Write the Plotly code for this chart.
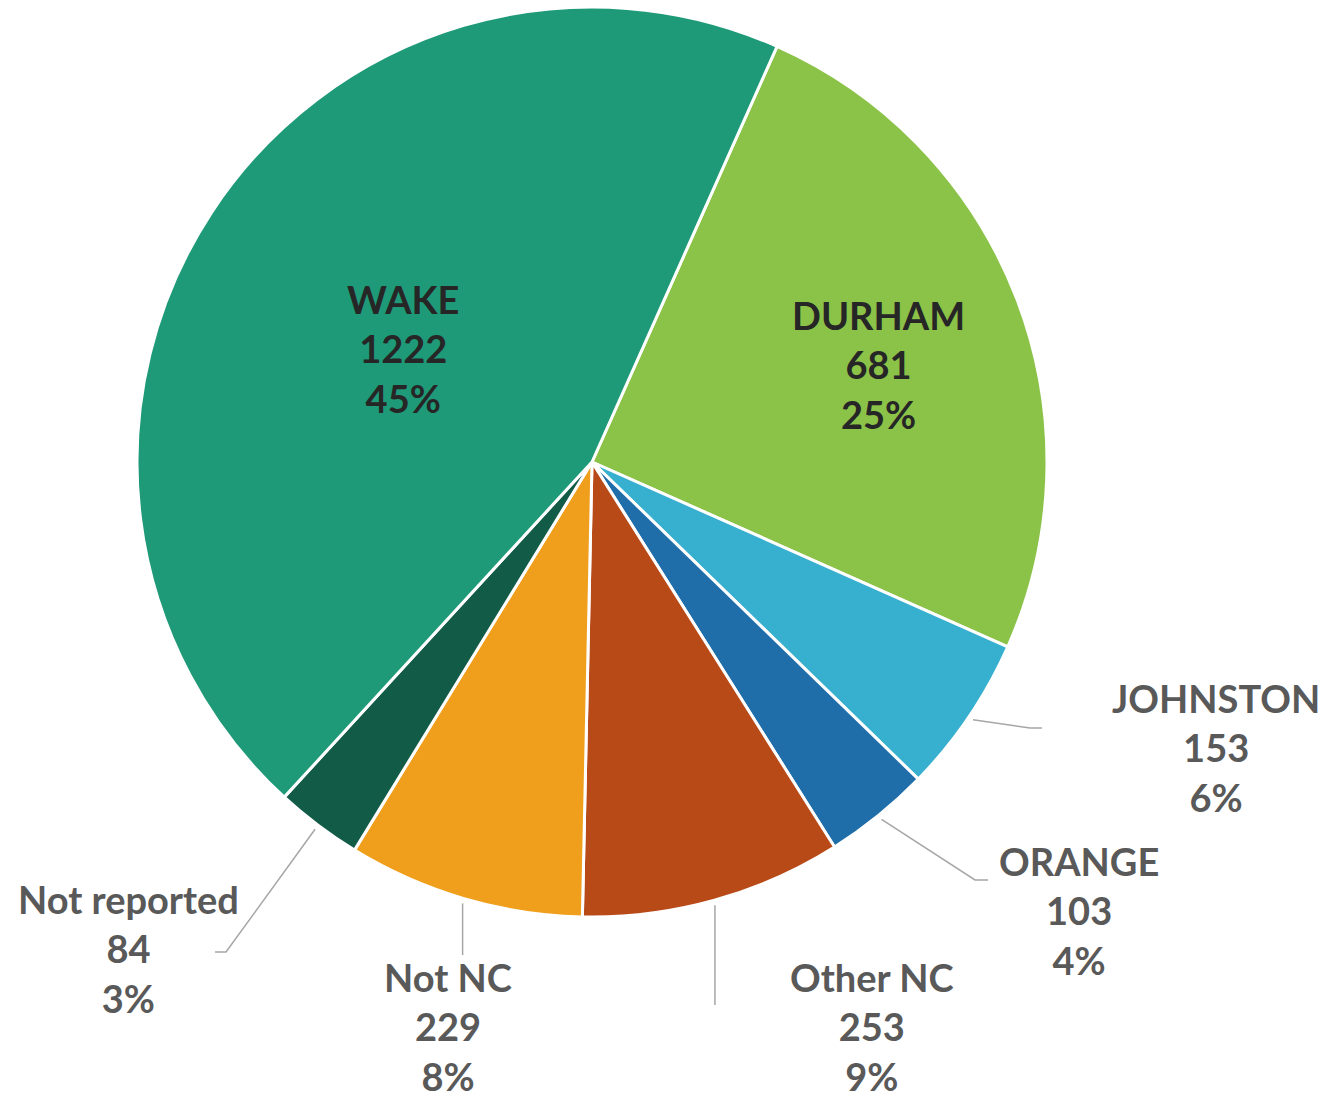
import math
import plotly.graph_objects as go

# County breakdown, clockwise from DURHAM
categories = ["DURHAM", "JOHNSTON", "ORANGE", "Other NC", "Not NC", "Not reported", "WAKE"]
counts = [681, 153, 103, 253, 229, 84, 1222]
slice_colors = ["#8BC248", "#37AFCF", "#1F6EAA", "#B84A18", "#F09F1D", "#125B47", "#1F9A78"]

W, H = 1324, 1100
CX, CY, R = 592, 462, 455      # pie centre / radius in pixels
ROTATION = 24                   # start angle of first slice, clockwise from 12 o'clock

# label placement (text-block centre) and leader-line routing, in pixels
label_pos = {
    "WAKE": (403, 348),
    "DURHAM": (878, 364),
    "JOHNSTON": (1216, 747),
    "ORANGE": (1079, 910),
    "Other NC": (872, 1026),
    "Not NC": (448, 1026),
    "Not reported": (128, 948),
}
inside = {"WAKE", "DURHAM"}
# leader: (elbow x or None for straight-down, elbow y, horizontal tail length signed)
leaders = {
    "JOHNSTON": (1030, 728, 12),
    "ORANGE": (975, 880, 13),
    "Other NC": (None, 1005, 0),
    "Not NC": (None, 955, 0),
    "Not reported": (226, 952, -11),
}


def px(x):
    return x / W


def py(y):
    return 1 - y / H


total = sum(counts)
fig = go.Figure(go.Pie(
    labels=categories,
    values=counts,
    sort=False,
    direction="clockwise",
    rotation=ROTATION,
    marker=dict(colors=slice_colors, line=dict(color="white", width=3)),
    textinfo="none",
    hoverinfo="label+value+percent",
    showlegend=False,
    domain=dict(x=[px(CX - R), px(CX + R)], y=[py(CY + R), py(CY - R)]),
))

annotations = []
shapes = []
cum = 0
for cat, val in zip(categories, counts):
    mid = ROTATION + (cum + val / 2) / total * 360
    cum += val
    pct = f"{round(val / total * 100)}%"
    lx, ly = label_pos[cat]
    color = "#262626" if cat in inside else "#595959"
    annotations.append(dict(
        x=px(lx), y=py(ly), xref="paper", yref="paper",
        text=f"<b>{cat}</b><br><b>{val}</b><br><b>{pct}</b>",
        showarrow=False, xanchor="center", yanchor="middle", align="center",
        font=dict(family="Lato", size=38, color=color),
    ))
    if cat in leaders:
        ex, ey, tail = leaders[cat]
        a = math.radians(mid)
        sx = CX + (R + 5) * math.sin(a)
        sy = CY - (R + 5) * math.cos(a)
        if ex is None:
            ex = sx
        pts = [(sx, sy), (ex, ey), (ex + tail, ey)]
        path = "M " + " L ".join(f"{px(x)},{py(y)}" for x, y in pts)
        shapes.append(dict(type="path", xref="paper", yref="paper", path=path,
                           line=dict(color="#A6A6A6", width=1.5)))

fig.update_layout(
    width=W, height=H,
    margin=dict(l=0, r=0, t=0, b=0),
    paper_bgcolor="white", plot_bgcolor="white",
    annotations=annotations, shapes=shapes,
)

fig.write_html("out.html")
